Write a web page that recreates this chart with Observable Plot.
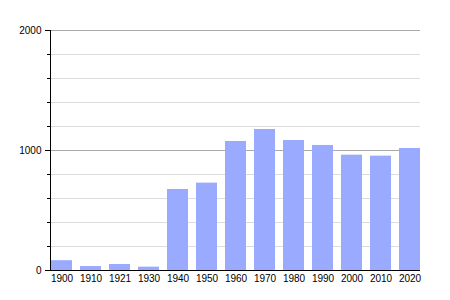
<!DOCTYPE html>
<html><head><meta charset="utf-8">
<script src="https://cdn.jsdelivr.net/npm/d3@7"></script>
<script src="https://cdn.jsdelivr.net/npm/@observablehq/plot@0.6"></script>
<style>body{margin:0;background:#fff;} svg{display:block;}</style>
</head><body><div id="chart"></div>
<script>
const years = ["1900","1910","1921","1930","1940","1950","1960","1970","1980","1990","2000","2010","2020"];
const population = [82, 33, 50, 28, 675, 728, 1075, 1175, 1083, 1042, 961, 953, 1017];
const majorTicks = [0, 1000, 2000];
const minorTicks = [200, 400, 600, 800, 1200, 1400, 1600, 1800];

const data = years.map((y, i) => ({year: y, value: population[i]}));

const chart = Plot.plot({
  width: 450, height: 300,
  marginLeft: 50, marginRight: 30, marginTop: 30, marginBottom: 30,
  style: {fontFamily: "Liberation Sans, Arial, sans-serif", fontSize: "10px", color: "#000", background: "#fff"},
  x: {domain: years, paddingInner: 0.28, paddingOuter: 0, label: null},
  y: {domain: [0, 2000], label: null},
  marks: [
    Plot.ruleY(minorTicks, {stroke: "#ddd"}),
    Plot.ruleY([1000, 2000], {stroke: "#aaa"}),
    Plot.barY(data, {x: "year", y: "value", fill: "#99aaff"}),
    Plot.axisY({ticks: minorTicks, tickSize: 3, text: null, stroke: "#000", strokeOpacity: 1}),
    Plot.axisY({ticks: majorTicks, tickSize: 5, tickPadding: 4, tickFormat: d => String(d), stroke: "#000", strokeOpacity: 1, fill: "#000", label: null}),
    Plot.axisX({tickSize: 0, tickPadding: 4, fill: "#000", label: null}),
    Plot.frame({anchor: "left", stroke: "#000"}),
    Plot.ruleY([0], {stroke: "#000"})
  ]
});
document.getElementById("chart").appendChild(chart);
</script></body></html>
